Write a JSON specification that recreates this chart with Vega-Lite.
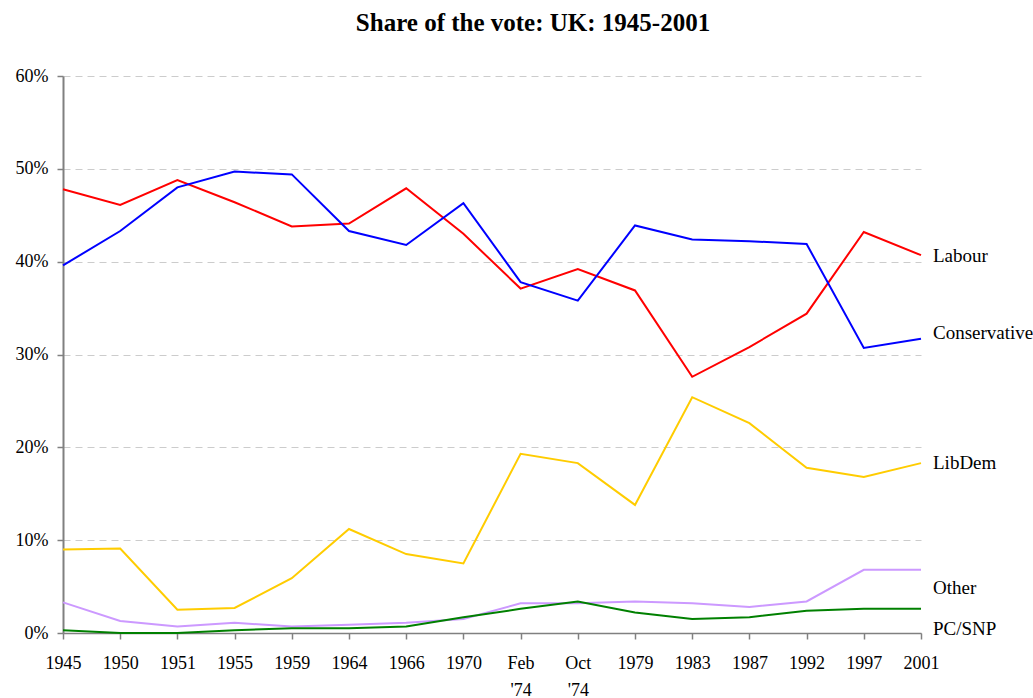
{
  "$schema": "https://vega.github.io/schema/vega-lite/v6.json",
  "width": 858,
  "height": 557,
  "autosize": {"type": "none"},
  "padding": {"left": 63, "top": 76, "right": 112, "bottom": 65},
  "background": "white",
  "title": {
    "text": "Share of the vote: UK: 1945-2001",
    "font": "Liberation Serif",
    "fontSize": 25,
    "fontWeight": "bold",
    "color": "black",
    "anchor": "middle",
    "dx": 41,
    "offset": 31
  },
  "config": {"view": {"stroke": null}},
  "datasets": {
    "votes": [
      {"election": "1945", "party": "Labour", "share": 47.8},
      {"election": "1950", "party": "Labour", "share": 46.1},
      {"election": "1951", "party": "Labour", "share": 48.8},
      {"election": "1955", "party": "Labour", "share": 46.4},
      {"election": "1959", "party": "Labour", "share": 43.8},
      {"election": "1964", "party": "Labour", "share": 44.1},
      {"election": "1966", "party": "Labour", "share": 47.9},
      {"election": "1970", "party": "Labour", "share": 43.0},
      {"election": "Feb '74", "party": "Labour", "share": 37.1},
      {"election": "Oct '74", "party": "Labour", "share": 39.2},
      {"election": "1979", "party": "Labour", "share": 36.9},
      {"election": "1983", "party": "Labour", "share": 27.6},
      {"election": "1987", "party": "Labour", "share": 30.8},
      {"election": "1992", "party": "Labour", "share": 34.4},
      {"election": "1997", "party": "Labour", "share": 43.2},
      {"election": "2001", "party": "Labour", "share": 40.7},
      {"election": "1945", "party": "Conservative", "share": 39.6},
      {"election": "1950", "party": "Conservative", "share": 43.3},
      {"election": "1951", "party": "Conservative", "share": 48.0},
      {"election": "1955", "party": "Conservative", "share": 49.7},
      {"election": "1959", "party": "Conservative", "share": 49.4},
      {"election": "1964", "party": "Conservative", "share": 43.3},
      {"election": "1966", "party": "Conservative", "share": 41.8},
      {"election": "1970", "party": "Conservative", "share": 46.3},
      {"election": "Feb '74", "party": "Conservative", "share": 37.8},
      {"election": "Oct '74", "party": "Conservative", "share": 35.8},
      {"election": "1979", "party": "Conservative", "share": 43.9},
      {"election": "1983", "party": "Conservative", "share": 42.4},
      {"election": "1987", "party": "Conservative", "share": 42.2},
      {"election": "1992", "party": "Conservative", "share": 41.9},
      {"election": "1997", "party": "Conservative", "share": 30.7},
      {"election": "2001", "party": "Conservative", "share": 31.7},
      {"election": "1945", "party": "LibDem", "share": 9.0},
      {"election": "1950", "party": "LibDem", "share": 9.1},
      {"election": "1951", "party": "LibDem", "share": 2.5},
      {"election": "1955", "party": "LibDem", "share": 2.7},
      {"election": "1959", "party": "LibDem", "share": 5.9},
      {"election": "1964", "party": "LibDem", "share": 11.2},
      {"election": "1966", "party": "LibDem", "share": 8.5},
      {"election": "1970", "party": "LibDem", "share": 7.5},
      {"election": "Feb '74", "party": "LibDem", "share": 19.3},
      {"election": "Oct '74", "party": "LibDem", "share": 18.3},
      {"election": "1979", "party": "LibDem", "share": 13.8},
      {"election": "1983", "party": "LibDem", "share": 25.4},
      {"election": "1987", "party": "LibDem", "share": 22.6},
      {"election": "1992", "party": "LibDem", "share": 17.8},
      {"election": "1997", "party": "LibDem", "share": 16.8},
      {"election": "2001", "party": "LibDem", "share": 18.3},
      {"election": "1945", "party": "Other", "share": 3.3},
      {"election": "1950", "party": "Other", "share": 1.3},
      {"election": "1951", "party": "Other", "share": 0.7},
      {"election": "1955", "party": "Other", "share": 1.1},
      {"election": "1959", "party": "Other", "share": 0.7},
      {"election": "1964", "party": "Other", "share": 0.9},
      {"election": "1966", "party": "Other", "share": 1.1},
      {"election": "1970", "party": "Other", "share": 1.5},
      {"election": "Feb '74", "party": "Other", "share": 3.2},
      {"election": "Oct '74", "party": "Other", "share": 3.2},
      {"election": "1979", "party": "Other", "share": 3.4},
      {"election": "1983", "party": "Other", "share": 3.2},
      {"election": "1987", "party": "Other", "share": 2.8},
      {"election": "1992", "party": "Other", "share": 3.4},
      {"election": "1997", "party": "Other", "share": 6.8},
      {"election": "2001", "party": "Other", "share": 6.8},
      {"election": "1945", "party": "PC/SNP", "share": 0.3},
      {"election": "1950", "party": "PC/SNP", "share": 0.0},
      {"election": "1951", "party": "PC/SNP", "share": 0.0},
      {"election": "1955", "party": "PC/SNP", "share": 0.3},
      {"election": "1959", "party": "PC/SNP", "share": 0.5},
      {"election": "1964", "party": "PC/SNP", "share": 0.5},
      {"election": "1966", "party": "PC/SNP", "share": 0.7},
      {"election": "1970", "party": "PC/SNP", "share": 1.7},
      {"election": "Feb '74", "party": "PC/SNP", "share": 2.6},
      {"election": "Oct '74", "party": "PC/SNP", "share": 3.4},
      {"election": "1979", "party": "PC/SNP", "share": 2.2},
      {"election": "1983", "party": "PC/SNP", "share": 1.5},
      {"election": "1987", "party": "PC/SNP", "share": 1.7},
      {"election": "1992", "party": "PC/SNP", "share": 2.4},
      {"election": "1997", "party": "PC/SNP", "share": 2.6},
      {"election": "2001", "party": "PC/SNP", "share": 2.6}
    ],
    "labels": [
      {"election": "2001", "party": "Labour", "labelAt": 40.6},
      {"election": "2001", "party": "Conservative", "labelAt": 32.3},
      {"election": "2001", "party": "LibDem", "labelAt": 18.3},
      {"election": "2001", "party": "Other", "labelAt": 4.9},
      {"election": "2001", "party": "PC/SNP", "labelAt": 0.4}
    ]
  },
  "encoding": {
    "x": {
      "field": "election",
      "type": "ordinal",
      "sort": ["1945", "1950", "1951", "1955", "1959", "1964", "1966", "1970", "Feb '74", "Oct '74", "1979", "1983", "1987", "1992", "1997", "2001"],
      "scale": {"type": "point", "padding": 0},
      "axis": {
        "title": null,
        "labelAngle": 0,
        "labelExpr": "split(datum.value, ' ')",
        "labelFont": "Liberation Serif",
        "labelFontSize": 18,
        "labelColor": "black",
        "labelLineHeight": 27,
        "labelPadding": 15,
        "tickSize": 6,
        "tickColor": "#808080",
        "tickWidth": 1.5,
        "domainColor": "#808080",
        "domainWidth": 1.5,
        "grid": false
      }
    }
  },
  "layer": [
    {
      "data": {"name": "votes"},
      "mark": {"type": "line", "strokeWidth": 2},
      "encoding": {
        "y": {
          "field": "share",
          "type": "quantitative",
          "scale": {"domain": [0, 60], "nice": false},
          "axis": {
            "title": null,
            "values": [0, 10, 20, 30, 40, 50, 60],
            "labelExpr": "datum.value + '%'",
            "labelFont": "Liberation Serif",
            "labelFontSize": 18,
            "labelColor": "black",
            "labelPadding": 9,
            "tickSize": 6,
            "tickColor": "#808080",
            "tickWidth": 1.5,
            "domainColor": "#808080",
            "domainWidth": 2,
            "gridColor": "#cccccc",
            "gridDash": [7, 5],
            "gridWidth": 1
          }
        },
        "color": {
          "field": "party",
          "type": "nominal",
          "scale": {
            "domain": ["Labour", "Conservative", "LibDem", "Other", "PC/SNP"],
            "range": ["#ff0000", "#0000ff", "#ffcc00", "#cc99ff", "#008000"]
          },
          "legend": null
        }
      }
    },
    {
      "data": {"name": "labels"},
      "mark": {"type": "text", "align": "left", "baseline": "middle", "dx": 12, "font": "Liberation Serif", "fontSize": 19, "color": "black"},
      "encoding": {
        "y": {"field": "labelAt", "type": "quantitative"},
        "text": {"field": "party"}
      }
    }
  ]
}
